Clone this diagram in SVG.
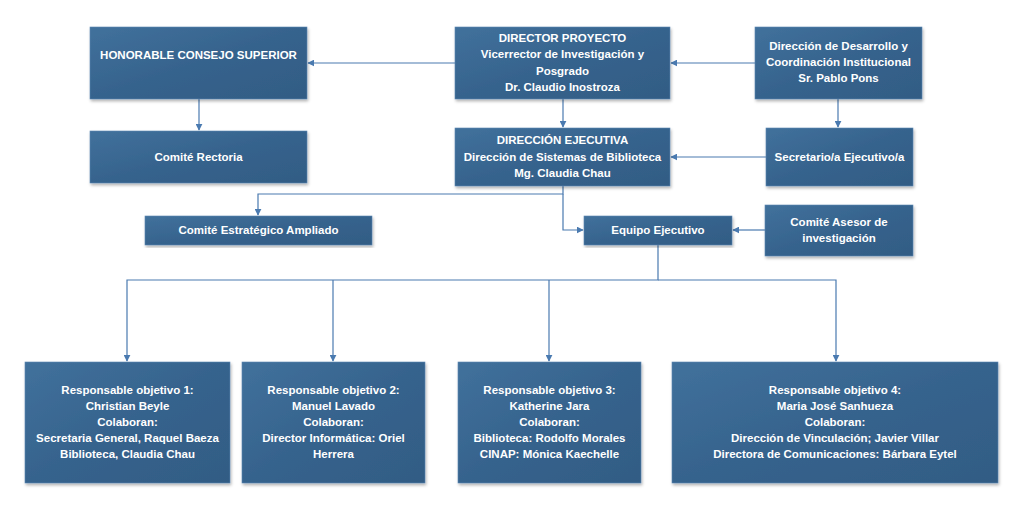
<svg xmlns="http://www.w3.org/2000/svg" width="1024" height="508" viewBox="0 0 1024 508">
<defs>
<linearGradient id="g" x1="0" y1="0" x2="1" y2="1">
<stop offset="0" stop-color="#41719c"/>
<stop offset="0.5" stop-color="#36638d"/>
<stop offset="1" stop-color="#325c84"/>
</linearGradient>
<filter id="sh" x="-5%" y="-5%" width="112%" height="115%">
<feDropShadow dx="1" dy="2" stdDeviation="1.5" flood-color="#000" flood-opacity="0.3"/>
</filter>
<marker id="ah" viewBox="0 0 10 10" refX="9" refY="5" markerWidth="7" markerHeight="7" markerUnits="userSpaceOnUse" orient="auto">
<path d="M0,0 L10,5 L0,10 z" fill="#4a7ab0"/>
</marker>
<style>
rect.n{fill:url(#g);stroke:#5d87b3;stroke-width:0.6;filter:url(#sh)}
text{font-family:"Liberation Sans",Arial,sans-serif;font-weight:bold;font-size:11.5px;fill:#fff;text-anchor:middle}
.c path{fill:none;stroke:#4a7ab0;stroke-width:1.2}
</style>
</defs>
<rect width="1024" height="508" fill="#fff"/>
<g class="c">
<path d="M455,63 H308" marker-end="url(#ah)"/>
<path d="M755,63 H671" marker-end="url(#ah)"/>
<path d="M199,99 V130" marker-end="url(#ah)"/>
<path d="M563,99 V127" marker-end="url(#ah)"/>
<path d="M838,99 V127" marker-end="url(#ah)"/>
<path d="M766,157 H671" marker-end="url(#ah)"/>
<path d="M563,186 V194 H258 V215" marker-end="url(#ah)"/>
<path d="M563,194 V230 H583" marker-end="url(#ah)"/>
<path d="M765,230 H733" marker-end="url(#ah)"/>
<path d="M658,245 V280 H127 V361" marker-end="url(#ah)"/>
<path d="M333,280 V361" marker-end="url(#ah)"/>
<path d="M549,280 V361" marker-end="url(#ah)"/>
<path d="M658,280 H836 V361" marker-end="url(#ah)"/>
</g>
<g id="hcs"><rect class="n" x="90" y="27" width="217" height="72"/><text x="198.5" y="59">HONORABLE CONSEJO SUPERIOR</text></g>
<g id="dp"><rect class="n" x="455" y="27" width="215" height="72"/>
<text x="562.5" y="42">DIRECTOR PROYECTO</text>
<text x="562.5" y="58">Vicerrector de Investigación y</text>
<text x="562.5" y="75">Posgrado</text>
<text x="562.5" y="91">Dr. Claudio Inostroza</text></g>
<g id="ddci"><rect class="n" x="755" y="27" width="167" height="72"/>
<text x="838.5" y="50">Dirección de Desarrollo y</text>
<text x="838.5" y="66">Coordinación Institucional</text>
<text x="838.5" y="82">Sr. Pablo Pons</text></g>
<g id="cr"><rect class="n" x="90" y="131" width="217" height="52"/><text x="198.5" y="161">Comité Rectoria</text></g>
<g id="de"><rect class="n" x="455" y="128" width="215" height="58"/>
<text x="562.5" y="144">DIRECCIÓN EJECUTIVA</text>
<text x="562.5" y="161">Dirección de Sistemas de Biblioteca</text>
<text x="562.5" y="177">Mg. Claudia Chau</text></g>
<g id="se"><rect class="n" x="766" y="128" width="147" height="58"/><text x="839.5" y="161">Secretario/a Ejecutivo/a</text></g>
<g id="cea"><rect class="n" x="145" y="216" width="227" height="29"/><text x="258.5" y="234">Comité Estratégico Ampliado</text></g>
<g id="ee"><rect class="n" x="584" y="216" width="148" height="29"/><text x="658" y="234">Equipo Ejecutivo</text></g>
<g id="cai"><rect class="n" x="765" y="205" width="148" height="51"/>
<text x="839" y="226">Comité Asesor de</text>
<text x="839" y="242">investigación</text></g>
<g id="r1"><rect class="n" x="25" y="362" width="205" height="121"/>
<text x="127.5" y="394">Responsable objetivo 1:</text>
<text x="127.5" y="410">Christian Beyle</text>
<text x="127.5" y="426">Colaboran:</text>
<text x="127.5" y="442">Secretaria General, Raquel Baeza</text>
<text x="127.5" y="458">Biblioteca, Claudia Chau</text></g>
<g id="r2"><rect class="n" x="242" y="362" width="183" height="121"/>
<text x="333.5" y="394">Responsable objetivo 2:</text>
<text x="333.5" y="410">Manuel Lavado</text>
<text x="333.5" y="426">Colaboran:</text>
<text x="333.5" y="442">Director Informática: Oriel</text>
<text x="333.5" y="458">Herrera</text></g>
<g id="r3"><rect class="n" x="458" y="362" width="183" height="121"/>
<text x="549.5" y="394">Responsable objetivo 3:</text>
<text x="549.5" y="410">Katherine Jara</text>
<text x="549.5" y="426">Colaboran:</text>
<text x="549.5" y="442">Biblioteca: Rodolfo Morales</text>
<text x="549.5" y="458">CINAP: Mónica Kaechelle</text></g>
<g id="r4"><rect class="n" x="672" y="362" width="326" height="121"/>
<text x="835" y="394">Responsable objetivo 4:</text>
<text x="835" y="410">Maria José Sanhueza</text>
<text x="835" y="426">Colaboran:</text>
<text x="835" y="442">Dirección de Vinculación; Javier Villar</text>
<text x="835" y="458">Directora de Comunicaciones: Bárbara Eytel</text></g>
</svg>
